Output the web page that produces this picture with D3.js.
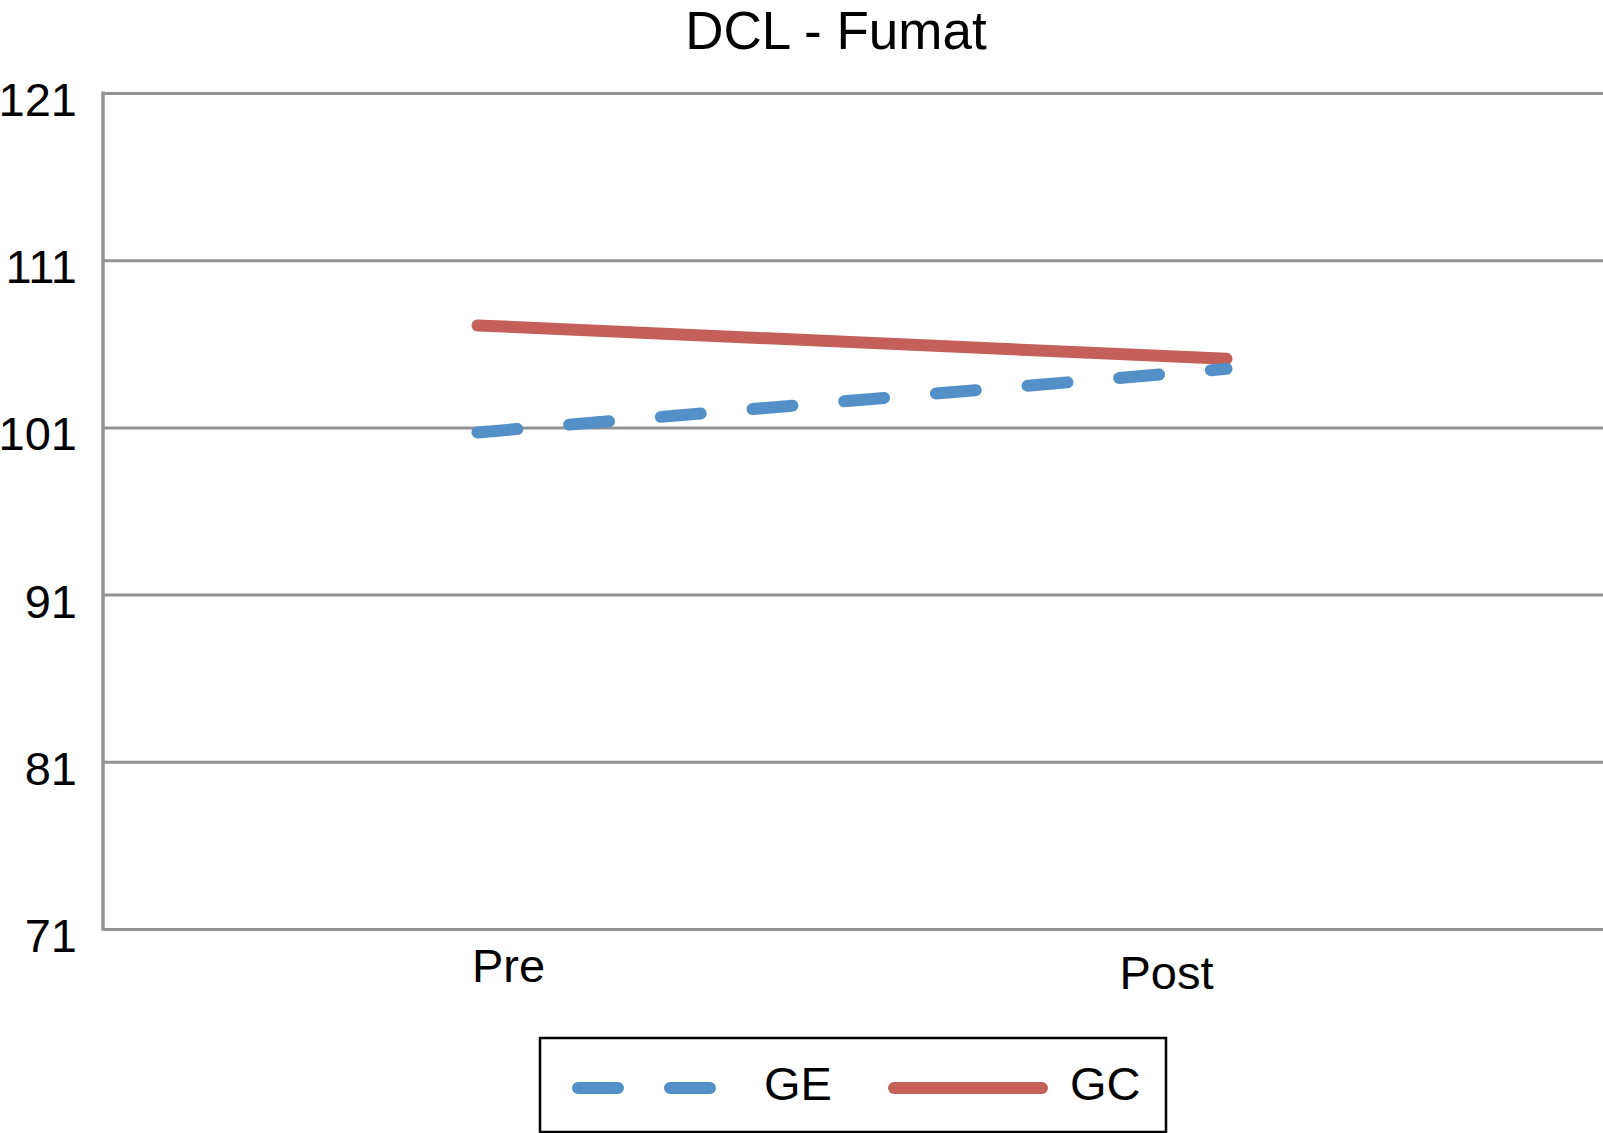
<!DOCTYPE html>
<html>
<head>
<meta charset="utf-8">
<style>
  body { margin: 0; background: #fff; }
  svg { display: block; font-family: "Liberation Sans", Arial, Helvetica, sans-serif; }
  .grid line { stroke: #939393; stroke-width: 3; }
  .grid path { display: none; }
  .grid text { fill: #000; font-size: 47px; }
</style>
</head>
<body>
<svg width="1603" height="1133"></svg>
<script src="https://d3js.org/d3.v7.min.js"></script>
<script>

// data
var categories = ["Pre", "Post"];
var geValues = [100.7, 104.5];
var gcValues = [107.1, 105.1];
var yTicks = [71, 81, 91, 101, 111, 121];
var seriesNames = ["GE", "GC"];

// the category labels sit a little off the points in the original
var labelNudge = [{dx: 31, dy: 53}, {dx: -60, dy: 60}];

var svg = d3.select("svg"),
    plotLeft = 103, plotRight = 1601, plotTop = 93, plotBottom = 929;

var x = d3.scalePoint()
    .domain(categories)
    .range([plotLeft, plotRight])
    .padding(0.5);

var y = d3.scaleLinear()
    .domain([71, 121])
    .range([plotBottom, plotTop]);

// horizontal gridlines + y labels
svg.append("g")
    .attr("class", "grid")
    .attr("transform", "translate(" + plotLeft + ",0)")
    .call(d3.axisLeft(y)
      .tickValues(yTicks)
      .tickSize(-(1603 - plotLeft))
      .tickPadding(26))
    .selectAll("text")
      .attr("dy", "0.48em");

// vertical axis line
svg.append("line")
    .attr("x1", plotLeft).attr("x2", plotLeft)
    .attr("y1", y(121) - 1.5).attr("y2", y(71) + 1.5)
    .attr("stroke", "#939393")
    .attr("stroke-width", 3.5);

// category labels
svg.append("g")
  .selectAll("text")
  .data(categories)
  .join("text")
    .attr("x", function(d, i) { return x(d) + labelNudge[i].dx; })
    .attr("y", function(d, i) { return plotBottom + labelNudge[i].dy; })
    .attr("text-anchor", "middle")
    .attr("font-size", "47px")
    .text(function(d) { return d; });

var line = d3.line()
    .x(function(d, i) { return x(categories[i]); })
    .y(function(d) { return y(d); });

svg.append("path")
    .datum(gcValues)
    .attr("fill", "none")
    .attr("stroke", "#C45F59")
    .attr("stroke-width", 12)
    .attr("stroke-linecap", "round")
    .attr("d", line);

svg.append("path")
    .datum(geValues)
    .attr("fill", "none")
    .attr("stroke", "#5490C8")
    .attr("stroke-width", 12)
    .attr("stroke-linecap", "round")
    .attr("stroke-dasharray", "40,52")
    .attr("d", line);

// title
svg.append("text")
    .attr("x", 836)
    .attr("y", 49)
    .attr("text-anchor", "middle")
    .attr("font-size", "53px")
    .text("DCL - Fumat");

// legend
var legend = svg.append("g");

legend.append("rect")
    .attr("x", 540).attr("y", 1038)
    .attr("width", 626).attr("height", 94)
    .attr("fill", "#fff")
    .attr("stroke", "#000")
    .attr("stroke-width", 2.5);

legend.append("line")
    .attr("x1", 578).attr("x2", 710)
    .attr("y1", 1088).attr("y2", 1088)
    .attr("stroke", "#5490C8")
    .attr("stroke-width", 12)
    .attr("stroke-linecap", "round")
    .attr("stroke-dasharray", "40,52");

legend.append("text")
    .attr("x", 764).attr("y", 1100)
    .attr("font-size", "47px")
    .text(seriesNames[0]);

legend.append("line")
    .attr("x1", 894).attr("x2", 1042)
    .attr("y1", 1088).attr("y2", 1088)
    .attr("stroke", "#C45F59")
    .attr("stroke-width", 12)
    .attr("stroke-linecap", "round");

legend.append("text")
    .attr("x", 1070).attr("y", 1100)
    .attr("font-size", "47px")
    .text(seriesNames[1]);

</script>
</body>
</html>
